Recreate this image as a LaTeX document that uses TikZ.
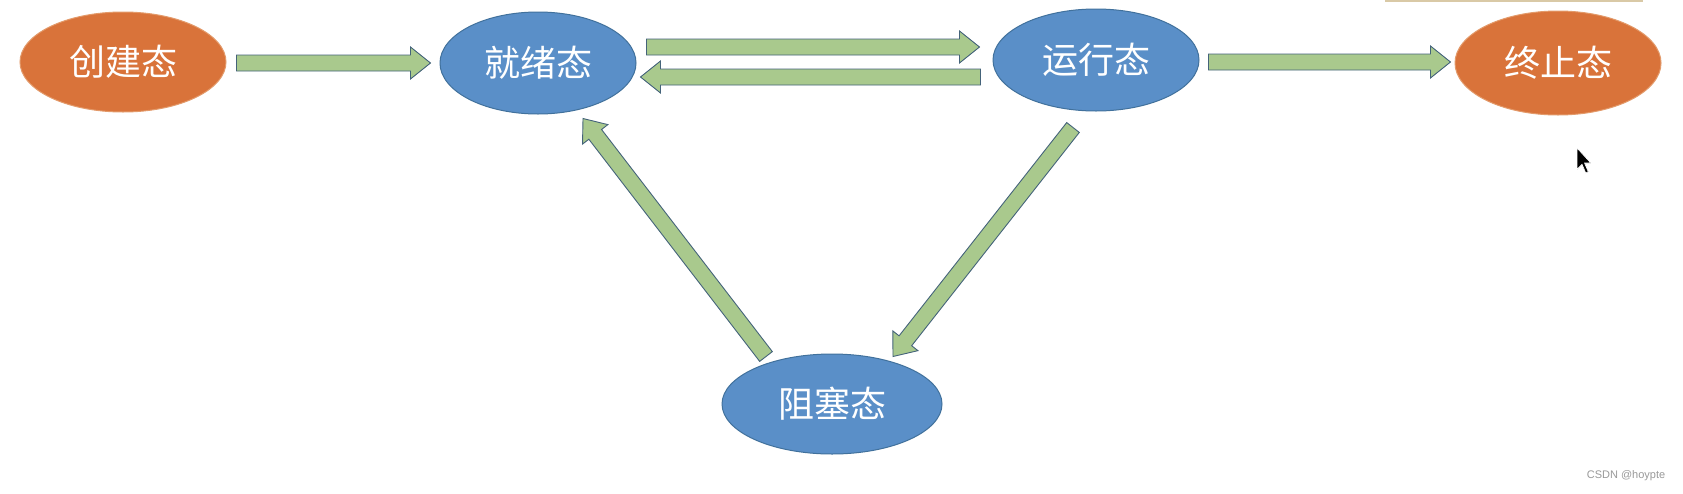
\documentclass[tikz,border=0pt]{standalone}
\usepackage{fontspec}
\usetikzlibrary{shapes.geometric,calc}
\newfontfamily\cjk{Noto Sans CJK SC}
\newfontfamily\wmfont{Liberation Sans}
\definecolor{stblue}{HTML}{5A8FC8}
\definecolor{stblueline}{HTML}{41719C}
\definecolor{storange}{HTML}{D9733A}
\definecolor{storangeline}{HTML}{E39A6A}
\definecolor{arrfill}{HTML}{A9C98D}
\definecolor{arrline}{HTML}{44637A}
\definecolor{topline}{HTML}{D9C9A6}
% block arrow from #1 (tail) to #2 (tip)
\newcommand{\blockarrow}[2]{%
  \coordinate (ba-s) at #1;
  \coordinate (ba-e) at #2;
  \coordinate (ba-h) at ($(ba-e)!20pt!(ba-s)$);
  \filldraw[blockarr] ($(ba-s)!8pt!90:(ba-e)$) -- ($(ba-h)!8pt!90:(ba-e)$)
    -- ($(ba-h)!16pt!90:(ba-e)$) -- (ba-e) -- ($(ba-h)!16pt!-90:(ba-e)$)
    -- ($(ba-h)!8pt!-90:(ba-e)$) -- ($(ba-s)!8pt!-90:(ba-e)$) -- cycle;}

\begin{document}
\begin{tikzpicture}[x=1pt,y=-1pt,
state/.style={ellipse, draw, line width=1pt, inner sep=0pt, minimum width=206pt, minimum height=100pt, font=\cjk\fontsize{36}{36}\selectfont, text=white},
bluestate/.style={state, fill=stblue, draw=stblueline},
orangestate/.style={state, fill=storange, draw=storangeline},
blockarr/.style={fill=arrfill, draw=arrline, line width=0.9pt, line join=miter}]
\fill[white] (0,0) rectangle (1683,493);
\useasboundingbox (0,0) rectangle (1683,493);
% states
\node[orangestate] (create) at (123,62) {创建态};
\node[bluestate, minimum width=196pt, minimum height=102pt] (ready) at (538,63) {就绪态};
\node[bluestate, minimum height=102pt] (run) at (1096,60) {运行态};
\node[orangestate, minimum height=104pt] (term) at (1558,63) {终止态};
\node[bluestate, minimum width=220pt] (block) at (832,404) {阻塞态};
% transitions
\blockarrow{($(create.east)+(10,1)$)}{($(ready.west)+(-9,0)$)}
\blockarrow{($(ready.east)+(10,-16)$)}{($(run.west)+(-13,-13)$)}
\blockarrow{($(run.west)+(-12,17)$)}{($(ready.east)+(4,14)$)}
\blockarrow{($(run.east)+(9,2)$)}{($(term.west)+(-4,-1)$)}
\blockarrow{($(run.south)+(-23,16)$)}{($(block.north)+(61,3)$)}
\blockarrow{($(block.north)+(-66,3)$)}{($(ready.south)+(45,4)$)}
% screen bits
\draw[topline, line width=2pt] (1385,1) -- (1643,1);
\filldraw[black, draw=white, line width=0.6pt, shift={(1577,148)}, scale=1.25]
  (0,0) -- (0,17) -- (4,13) -- (7,20) -- (9,19) -- (6,12) -- (11,12) -- cycle;
\node[font=\wmfont\fontsize{11}{11}\selectfont, text=gray!80] (mark) at (1626,476) {CSDN @hoypte};
\end{tikzpicture}
\end{document}
